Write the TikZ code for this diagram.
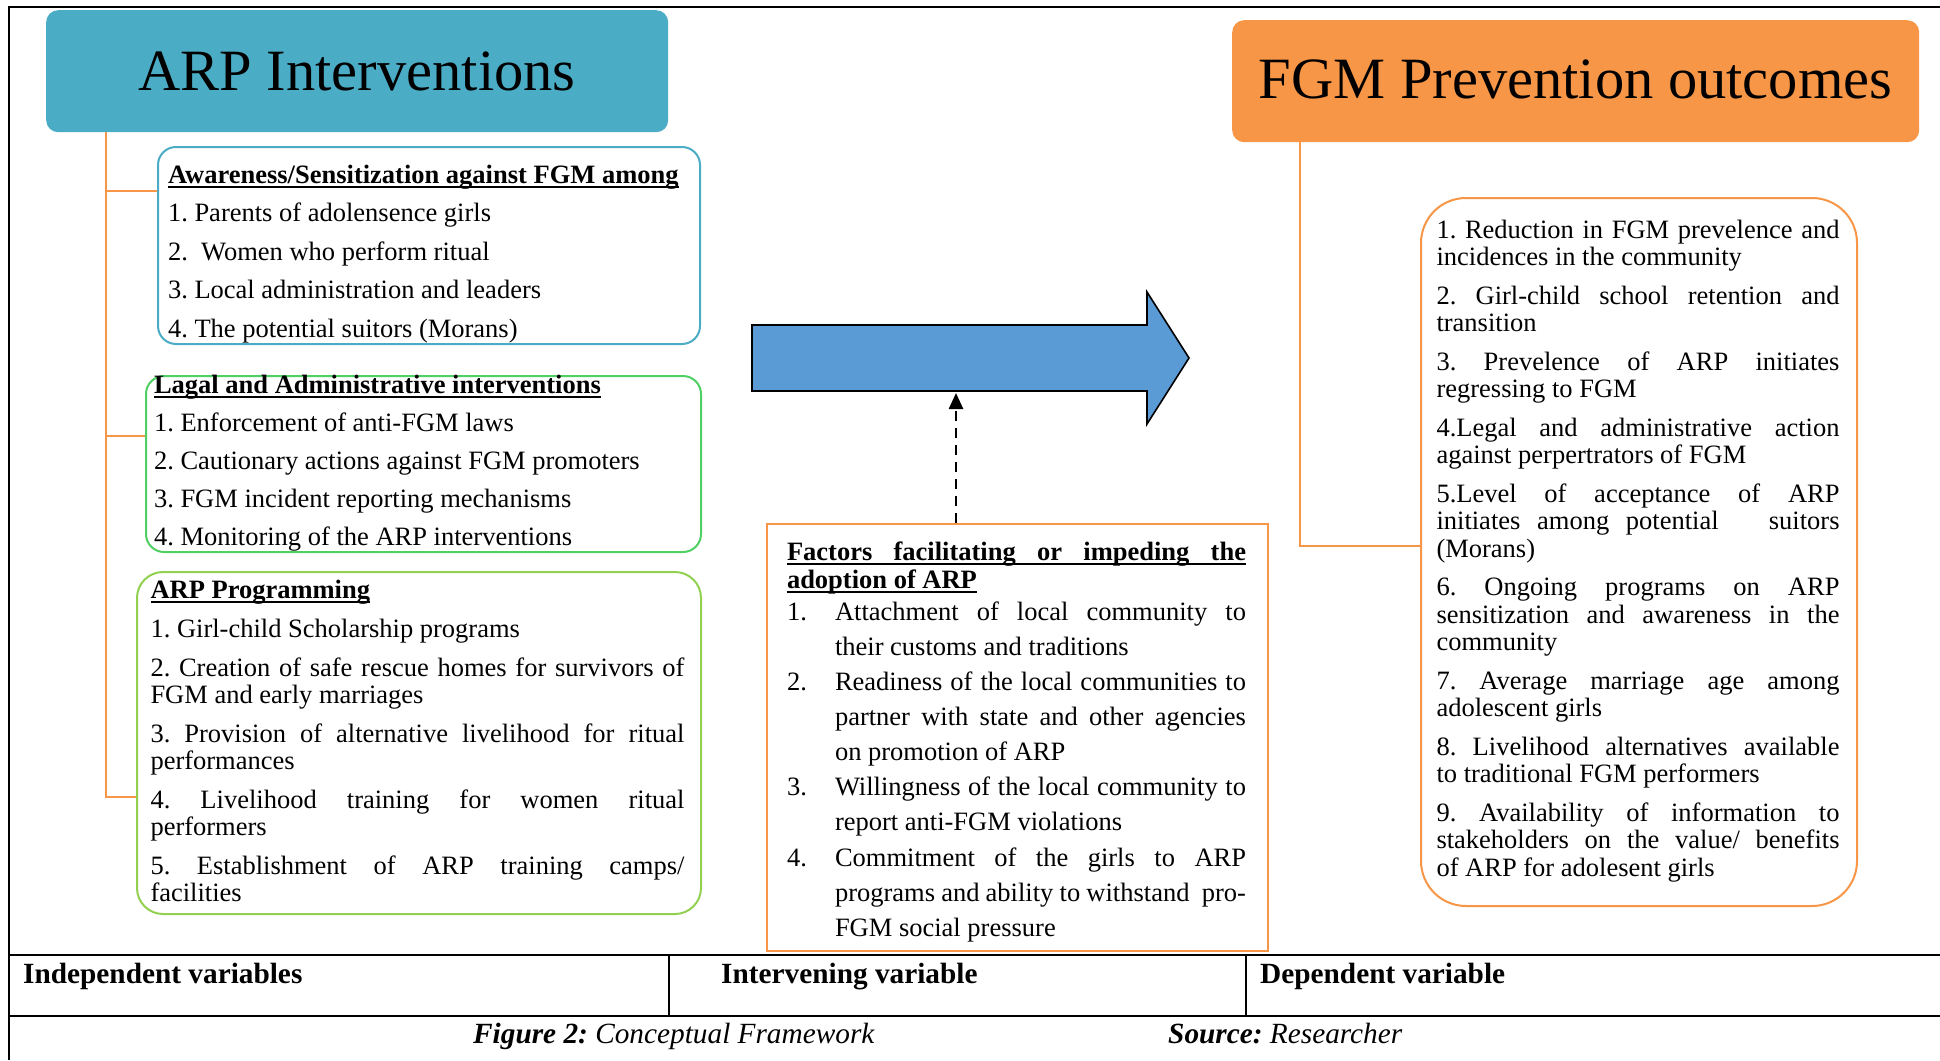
\documentclass[tikz,border=0pt]{standalone}
\usepackage{fontspec}
\setmainfont{Liberation Serif}
\usetikzlibrary{arrows.meta}
\frenchspacing
\definecolor{arpteal}{RGB}{75,172,198}
\definecolor{fgmorange}{RGB}{247,150,70}
\definecolor{legalgreen}{RGB}{80,208,100}
\definecolor{proggreen}{RGB}{146,208,80}
\definecolor{arrowblue}{RGB}{91,155,213}
\newcommand{\myul}[1]{\leavevmode\setbox0\hbox{#1}\rlap{\rule[-5pt]{\wd0}{1.8pt}}\box0}
\newcommand{\jline}[1]{\makebox[\linewidth][s]{#1}\par}
\newcommand{\fitem}[2]{\makebox[48pt][l]{#1}\makebox[411pt][s]{#2}\par}
\newcommand{\fjust}[1]{\hspace*{48pt}\makebox[411pt][s]{#1}\par}
\newcommand{\fcont}[1]{\hspace*{48pt}#1\par}
\tikzset{
  frameline/.style={draw=black, line width=2.4pt},
  titlebox/.style={fill=#1, draw=none, rounded corners=12pt, anchor=north west, inner sep=0pt},
  listbox/.style={draw=#1, line width=2pt, fill=white, anchor=north west, inner sep=0pt},
  conn/.style={draw=fgmorange, line width=2pt},
  titletext/.style={anchor=base, inner sep=0pt, font=\fontsize{58.5}{60}\selectfont},
  body/.style={anchor=base west, inner sep=0pt, outer sep=0pt, align=justify},
  tabtxt/.style={anchor=base west, inner sep=0pt, font=\fontsize{29.3}{32}\selectfont\bfseries},
  captxt/.style={anchor=base west, inner sep=0pt, font=\fontsize{29.3}{32}\selectfont},
  dashconn/.style={line width=2.5pt, dash pattern=on 10pt off 7pt, -{Triangle[length=16pt,width=14pt]}}
}
\begin{document}
\begin{tikzpicture}[x=1pt,y=-1pt]
\useasboundingbox (0,0) rectangle (1940,1060);
% outer frame and table
\draw[frameline] (9,1060) -- (9,7) -- (1940,7);
\draw[frameline] (9,955) -- (1940,955);
\draw[frameline] (9,1016) -- (1940,1016);
\draw[frameline] (669,955) -- (669,1016);
\draw[frameline] (1246,955) -- (1246,1016);

% title boxes
\node[titlebox=arpteal, minimum width=622, minimum height=122] (arp) at (46,10) {};
\node[titletext] (arpt) at (357,90) {ARP Interventions};
\node[titlebox=fgmorange, minimum width=687, minimum height=122] (fgm) at (1232,20) {};
\node[titletext] (fgmt) at (1575.5,98) {FGM Prevention outcomes};

% left boxes
\node[listbox=arpteal, rounded corners=18pt, minimum width=542, minimum height=197] (b1) at (157,146) {};
\node[listbox=legalgreen, rounded corners=18pt, minimum width=555, minimum height=176] (b2) at (145,375) {};
\node[listbox=proggreen, rounded corners=26pt, minimum width=564, minimum height=342] (b3) at (136,571) {};

% left tree connectors
\coordinate (t1) at (106,191);
\coordinate (t2) at (106,436);
\coordinate (t3) at (106,797);
\draw[conn] (arp.south -| t3) -- (t3) -- (t3 -| b3.west);
\draw[conn] (t1) -- (t1 -| b1.west);
\draw[conn] (t2) -- (t2 -| b2.west);

\node[body, text width=525pt, font=\fontsize{26.5}{38.5}\selectfont] (b1t) at (168,183) {%
\myul{\textbf{Awareness/Sensitization against FGM among}}\par
1. Parents of adolensence girls\par
2.\ \ Women who perform ritual\par
3. Local administration and leaders\par
4. The potential suitors (Morans)\par};

\node[body, text width=540pt, font=\fontsize{26.5}{38.2}\selectfont] (b2t) at (154,393) {%
\myul{\textbf{Lagal and Administrative interventions}}\par
1. Enforcement of anti-FGM laws\par
2. Cautionary actions against FGM promoters\par
3. FGM incident reporting mechanisms\par
4. Monitoring of the ARP interventions\par};

\node[body, text width=534pt, font=\fontsize{26.5}{27}\selectfont] (b3t) at (150.5,598) {%
\myul{\textbf{ARP Programming}}\par\vspace{12pt}
1. Girl-child Scholarship programs\par\vspace{12pt}
\jline{2. Creation of safe rescue homes for survivors of}
FGM and early marriages\par\vspace{12pt}
\jline{3. Provision of alternative livelihood for ritual}
performances\par\vspace{12pt}
\jline{4. Livelihood training for women ritual}
performers\par\vspace{12pt}
\jline{5. Establishment of ARP training camps/}
facilities\par};

% big arrow
\draw[fill=arrowblue, line width=1.6pt, line join=miter] (752,325) -- (1147,325) -- (1147,292) -- (1189,358) -- (1147,424) -- (1147,391) -- (752,391) -- cycle;

% factors box
\node[listbox=fgmorange, minimum width=501, minimum height=427] (fac) at (766,523) {};
\coordinate (dtip) at (956,393);
\draw[dashconn] (fac.north -| dtip) -- (dtip);

\node[body, text width=459pt, font=\fontsize{26.5}{28}\selectfont] (fh) at (787,560) {%
\myul{\makebox[459pt][s]{\bfseries Factors facilitating or impeding the}}\par
\myul{\textbf{adoption of ARP}}\par};

\node[body, text width=459pt, font=\fontsize{26.5}{35.15}\selectfont] (fl) at (787,620) {%
\fitem{1.}{Attachment of local community to}
\fcont{their customs and traditions}
\fitem{2.}{Readiness of the local communities to}
\fjust{partner with state and other agencies}
\fcont{on promotion of ARP}
\fitem{3.}{Willingness of the local community to}
\fcont{report anti-FGM violations}
\fitem{4.}{Commitment of the girls to ARP}
\fjust{programs and ability to withstand\ \ pro-}
\fcont{FGM social pressure}};

% outcomes
\node[listbox=fgmorange, rounded corners=45pt, minimum width=436, minimum height=708] (out) at (1420,197) {};
\coordinate (r1) at (1300,546);
\draw[conn] (fgm.south -| r1) -- (r1) -- (r1 -| out.west);

\node[body, text width=403pt, font=\fontsize{26.5}{27.3}\selectfont] (outt) at (1436.5,238) {%
\jline{1. Reduction in FGM prevelence and}
incidences in the community\par\vspace{11.5pt}
\jline{2. Girl-child school retention and}
transition\par\vspace{11.5pt}
\jline{3. Prevelence of ARP initiates}
regressing to FGM\par\vspace{11.5pt}
\jline{4.Legal and administrative action}
against perpertrators of FGM\par\vspace{11.5pt}
\jline{5.Level of acceptance of ARP}
\jline{initiates among potential\ \ \ suitors}
(Morans)\par\vspace{11.5pt}
\jline{6. Ongoing programs on ARP}
\jline{sensitization and awareness in the}
community\par\vspace{11.5pt}
\jline{7. Average marriage age among}
adolescent girls\par\vspace{11.5pt}
\jline{8. Livelihood alternatives available}
to traditional FGM performers\par\vspace{11.5pt}
\jline{9. Availability of information to}
\jline{stakeholders on the value/ benefits}
of ARP for adolesent girls\par};

% table texts
\node[tabtxt] (iv) at (23,983) {Independent variables};
\node[tabtxt] (mv) at (721,983) {Intervening variable};
\node[tabtxt] (dv) at (1260,983) {Dependent variable};
\node[captxt] (cap) at (473,1043) {\textbf{\textit{Figure 2:}} \textit{Conceptual Framework}};
\node[captxt] (src) at (1168,1043) {\textbf{\textit{Source:}} \textit{Researcher}};
\end{tikzpicture}
\end{document}
